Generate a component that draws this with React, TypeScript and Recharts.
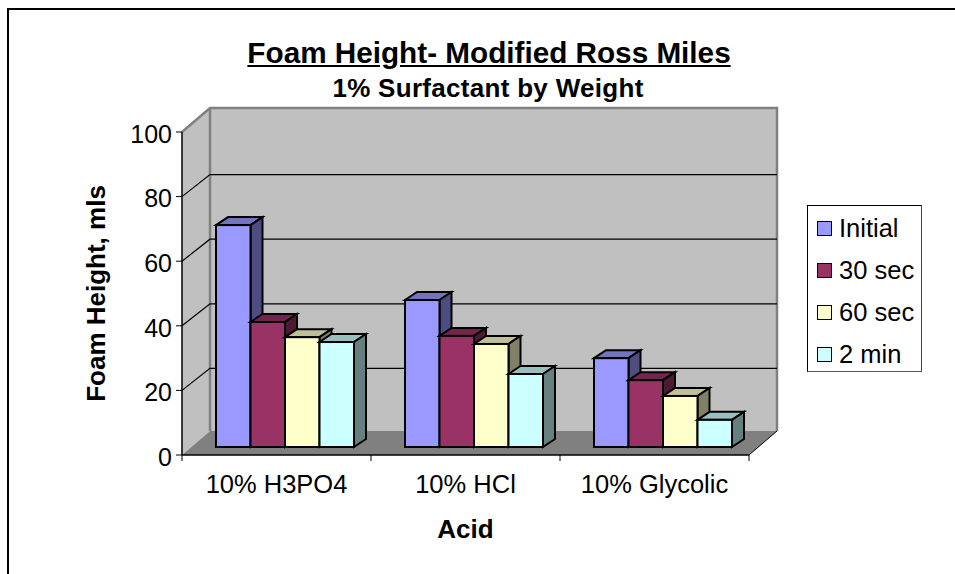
import { BarChart, Bar, XAxis, YAxis, Legend, Label, usePlotArea } from "recharts";

const categories = ["10% H3PO4", "10% HCl", "10% Glycolic"];
const initial = [68.7, 45.5, 27.5];
const sec30 = [38.7, 34.4, 20.7];
const sec60 = [34, 31.9, 15.8];
const min2 = [32.5, 22.6, 8.4];
const yTicks = [0, 20, 40, 60, 80, 100];
const gridValues = [20, 40, 60, 80];

const data = categories.map((name, i) => ({
  name,
  initial: initial[i],
  sec30: sec30[i],
  sec60: sec60[i],
  min2: min2[i],
}));

const FONT = "'Liberation Sans', Arial, sans-serif";

// depth of the 3d box behind the front axis plane
const WALL_DX = 28;
const WALL_DY = 24;
const GRID_DY = 22;
// bars sit a bit inside that depth
const BAR_DX = 8;
const BAR_DY = 8;
const BOX_DX = 12;
const BOX_DY = 8;

function Walls() {
  const plot = usePlotArea();
  if (!plot) return null;
  const l = plot.x;
  const r = plot.x + plot.width;
  const t = plot.y;
  const b = plot.y + plot.height;
  const bl = l + WALL_DX;
  const br = r + WALL_DX;
  const bt = t - WALL_DY;
  const bb = b - WALL_DY;
  return (
    <g>
      <polygon points={`${l},${t} ${bl},${bt} ${bl},${bb} ${l},${b}`} fill="#c0c0c0" />
      <polygon points={`${bl},${bt} ${br},${bt} ${br},${bb} ${bl},${bb}`} fill="#c0c0c0" />
      <polygon points={`${l},${b} ${bl},${bb} ${br},${bb} ${r},${b}`} fill="#808080" />
      <path
        d={`M${l},${t} L${bl},${bt} L${br},${bt} L${br},${bb} M${bl},${bt} L${bl},${bb}`}
        fill="none"
        stroke="#808080"
        strokeWidth={2.5}
      />
      {/* grid has to sit above the wall fill, so it is drawn here */}
      {gridValues.map((v) => {
        const y = b - (plot.height * v) / 100;
        return (
          <path
            key={v}
            d={`M${l},${y} L${bl},${y - GRID_DY} L${br},${y - GRID_DY}`}
            fill="none"
            stroke="#000"
            strokeWidth={1.2}
          />
        );
      })}
      <line x1={r} y1={b} x2={br} y2={bb} stroke="#000" strokeWidth={1} />
    </g>
  );
}

function shade(hex: string, f: number) {
  const n = parseInt(hex.slice(1), 16);
  const c = [(n >> 16) & 255, (n >> 8) & 255, n & 255].map((v) => Math.round(v * f));
  return `rgb(${c[0]},${c[1]},${c[2]})`;
}

function Box3D(props: any) {
  const { x, y, width, height, fill } = props;
  if (height == null) return null;
  const fx = x + BAR_DX;
  const fy = y - BAR_DY;
  const fr = fx + width;
  const fb = fy + height;
  return (
    <g stroke="#000" strokeWidth={2}>
      <polygon
        points={`${fx},${fy} ${fx + BOX_DX},${fy - BOX_DY} ${fr + BOX_DX},${fy - BOX_DY} ${fr},${fy}`}
        fill={shade(fill, 0.75)}
      />
      <polygon
        points={`${fr},${fy} ${fr + BOX_DX},${fy - BOX_DY} ${fr + BOX_DX},${fb - BOX_DY} ${fr},${fb}`}
        fill={shade(fill, 0.5)}
      />
      <rect x={fx} y={fy} width={width} height={height} fill={fill} />
    </g>
  );
}

function CategoryTick(props: any) {
  const { x, y, payload, index } = props;
  const half = 94.5;
  return (
    <g>
      <line x1={x - half} y1={y - 8} x2={x - half} y2={y - 2} stroke="#000" />
      {index === categories.length - 1 && (
        <line x1={x + half} y1={y - 8} x2={x + half} y2={y - 2} stroke="#000" />
      )}
      <text x={x} y={y + 30} textAnchor="middle" fontFamily={FONT} fontSize={25.5} fill="#000">
        {payload.value}
      </text>
    </g>
  );
}

function ValueTick(props: any) {
  const { x, y, payload } = props;
  return (
    <text x={x - 3} y={y + 10.7} textAnchor="end" fontFamily={FONT} fontSize={25} fill="#000">
      {payload.value}
    </text>
  );
}

function LegendBox(props: any) {
  const { payload } = props;
  return (
    <div
      style={{
        width: 115,
        height: 167,
        boxSizing: "border-box",
        background: "#fff",
        border: "1px solid #000",
        borderRight: "1px solid #444",
        borderBottom: "1.5px solid #555",
        position: "relative",
      }}
    >
      {payload.map((p: any, i: number) => (
        <div
          key={p.value}
          style={{
            position: "absolute",
            left: 9,
            top: 8 + i * 42,
            height: 28,
            display: "flex",
            alignItems: "center",
            fontFamily: FONT,
            fontSize: 25.5,
            color: "#000",
            whiteSpace: "nowrap",
          }}
        >
          <span
            style={{
              width: 15,
              height: 15,
              boxSizing: "border-box",
              background: p.color,
              border: "1.5px solid #000",
              marginRight: 7,
              display: "inline-block",
            }}
          />
          {p.value}
        </div>
      ))}
    </div>
  );
}

export default function App() {
  return (
    <div style={{ position: "absolute", left: 0, top: 0, width: 955, height: 574, overflow: "hidden", background: "#fff" }}>
      <div
        style={{
          position: "absolute",
          left: 7,
          top: 8,
          width: 1000,
          height: 700,
          borderLeft: "2px solid #000",
          borderTop: "2px solid #000",
        }}
      />
      <div
        style={{
          position: "absolute",
          left: 0,
          width: 978,
          top: 35,
          textAlign: "center",
          fontFamily: FONT,
          fontWeight: 700,
          fontSize: 29.7,
          lineHeight: "36px",
          textDecoration: "underline",
          color: "#000",
        }}
      >
        Foam Height- Modified Ross Miles
      </div>
      <div
        style={{
          position: "absolute",
          left: 0,
          width: 976,
          top: 73,
          textAlign: "center",
          fontFamily: FONT,
          fontWeight: 700,
          fontSize: 26,
          letterSpacing: 0.3,
          lineHeight: "30px",
          color: "#000",
        }}
      >
        1% Surfactant by Weight
      </div>
      <BarChart
        width={955}
        height={574}
        data={data}
        margin={{ top: 132, right: 206, bottom: 59, left: 102 }}
        barSize={34.5}
        barGap={0}
        style={{ position: "absolute", left: 0, top: 0 }}
      >
        <Walls />
        <XAxis
          dataKey="name"
          height={60}
          axisLine={{ stroke: "#000", strokeWidth: 1.5 }}
          tickLine={false}
          interval={0}
          tick={<CategoryTick />}
        >
          <Label
            value="Acid"
            position="insideBottom"
            offset={-23}
            style={{ fontFamily: FONT, fontWeight: 700, fontSize: 26, fill: "#000" }}
          />
        </XAxis>
        <YAxis
          width={80}
          domain={[0, 100]}
          ticks={yTicks}
          interval={0}
          axisLine={{ stroke: "#000", strokeWidth: 1.5 }}
          tickLine={{ stroke: "#000" }}
          tickSize={6}
          tickMargin={1}
          tick={<ValueTick />}
        >
          <Label
            value="Foam Height, mls"
            angle={-90}
            position="insideLeft"
            offset={-6}
            style={{ fontFamily: FONT, fontWeight: 700, fontSize: 26, fill: "#000", textAnchor: "middle" }}
          />
        </YAxis>
        <Legend
          layout="vertical"
          align="center"
          verticalAlign="middle"
          itemSorter={null}
          wrapperStyle={{ position: "absolute", left: 807, top: 205, width: 115, height: 167 }}
          content={<LegendBox />}
        />
        <Bar dataKey="initial" name="Initial" fill="#9999ff" shape={<Box3D />} isAnimationActive={false} />
        <Bar dataKey="sec30" name="30 sec" fill="#993366" shape={<Box3D />} isAnimationActive={false} />
        <Bar dataKey="sec60" name="60 sec" fill="#ffffcc" shape={<Box3D />} isAnimationActive={false} />
        <Bar dataKey="min2" name="2 min" fill="#ccffff" shape={<Box3D />} isAnimationActive={false} />
      </BarChart>
    </div>
  );
}
